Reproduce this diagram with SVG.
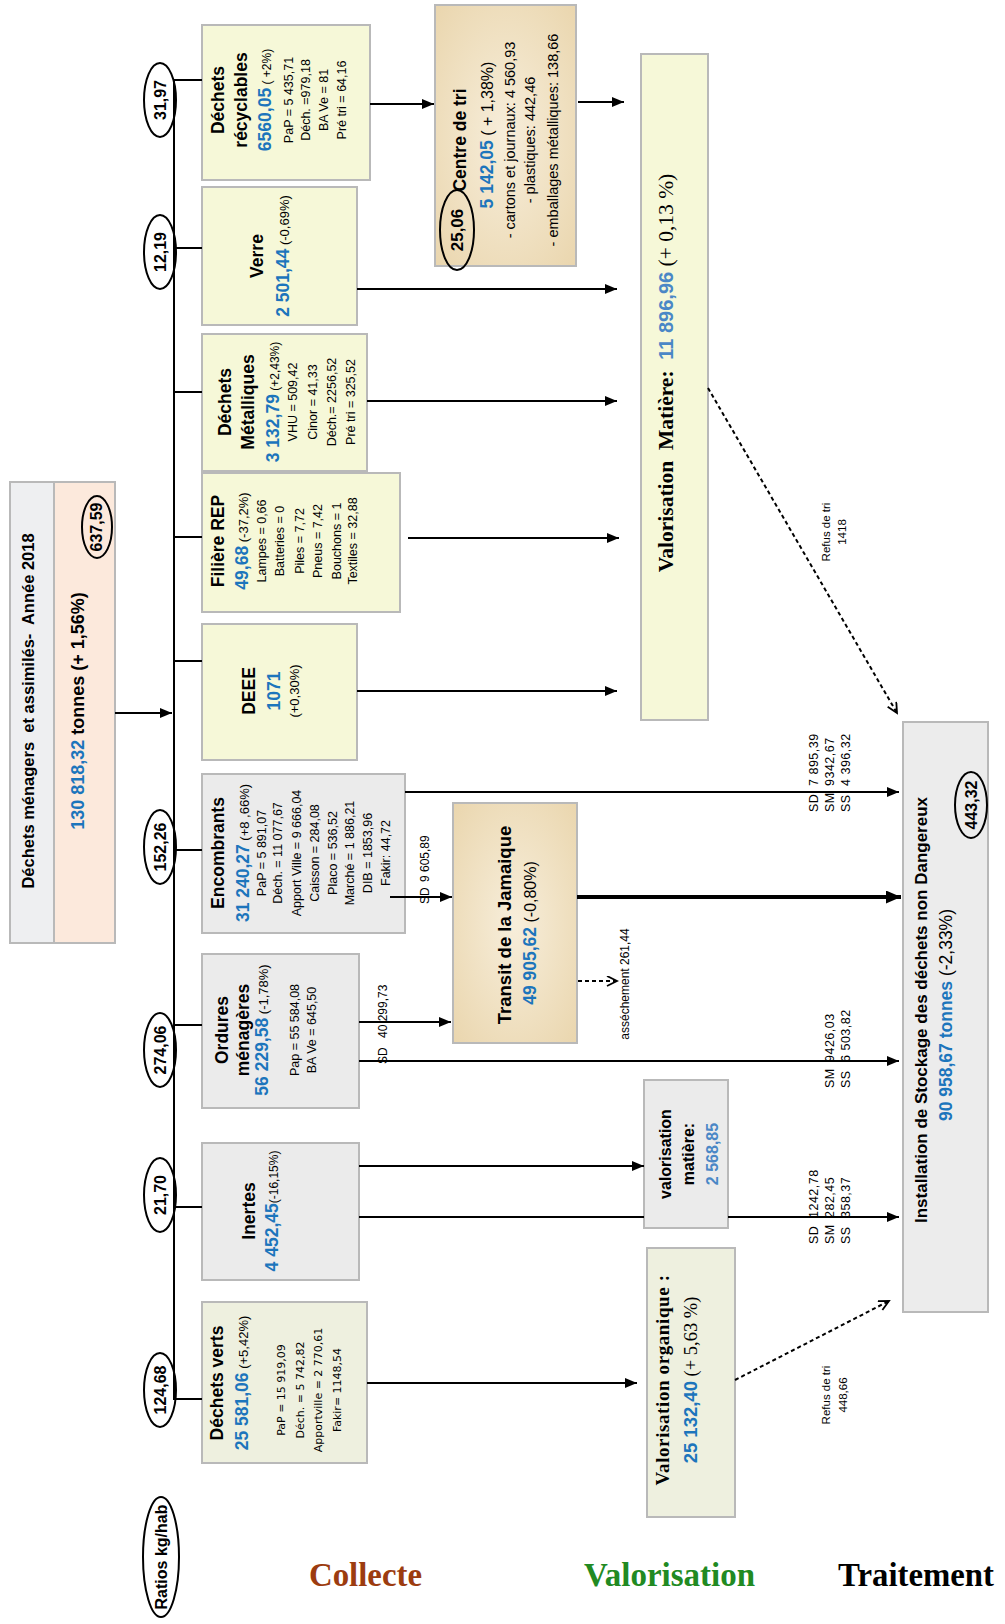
<svg xmlns="http://www.w3.org/2000/svg" width="1005" height="1624" viewBox="0 0 1005 1624">
<style>
text{font-family:"Liberation Sans",Arial,sans-serif}
.m{text-anchor:middle}
.st{text-anchor:start}
.box{stroke:#b9b9b9;stroke-width:2}
.yl{fill:#f6f8d8}
.gr{fill:#ebebeb}
.gv{fill:#eef0df}
.pa{fill:url(#parch)}
.t{font-weight:bold;font-size:17.5px}
.n{font-weight:bold;font-size:17.5px;fill:#1c75bc}
.s{font-weight:normal;fill:#000}
.d{font-size:12.5px}
.dv{font-family:"DejaVu Sans",sans-serif;font-size:11px}
.ov{fill:none;stroke:#000;stroke-width:2}
.ovt{font-weight:bold;font-size:16px}
.ln{stroke:#000;stroke-width:2;fill:none}
.ar{stroke:#000;stroke-width:2;fill:none;marker-end:url(#ah)}
.dash{stroke:#000;stroke-width:2;fill:none;stroke-dasharray:4 3;marker-end:url(#oh)}
.lbl{font-size:12px}
.lb2{font-size:12.5px;letter-spacing:0.5px}
.sm{font-size:11.5px}
.big{font-family:"Liberation Serif","Times New Roman",serif;font-weight:bold;font-size:34px}
</style>
<defs>
<marker id="ah" markerUnits="userSpaceOnUse" markerWidth="13" markerHeight="11" refX="12" refY="5" orient="auto"><path d="M0,0 L12,5 L0,10 z" fill="#000"/></marker>
<marker id="ahb" markerUnits="userSpaceOnUse" markerWidth="16" markerHeight="14" refX="15" refY="6.5" orient="auto"><path d="M0,0 L15,6.5 L0,13 z" fill="#000"/></marker>
<marker id="oh" markerUnits="userSpaceOnUse" markerWidth="13" markerHeight="12" refX="11" refY="5.5" orient="auto"><path d="M1,0.5 L11,5.5 L1,10.5" fill="none" stroke="#000" stroke-width="1.8"/></marker>
<radialGradient id="parch" cx="50%" cy="50%" r="70%"><stop offset="0" stop-color="#f7eedb"/><stop offset="1" stop-color="#ead6ae"/></radialGradient>
</defs>
<rect width="1005" height="1624" fill="#fff"/>

<g id="header">
<rect x="10" y="482" width="44" height="461" fill="#eeeff1" class="box"/>
<rect x="54" y="482" width="61" height="461" fill="#fce9dc" class="box"/>
<g transform="translate(0,711) rotate(-90)" class="m"><text y="34" font-weight="bold" font-size="16.5" xml:space="preserve">Déchets ménagers  et assimilés-  Année 2018</text>
<text y="84" font-weight="bold" font-size="18"><tspan fill="#1c75bc">130 818,32</tspan> tonnes (+ 1,56%)</text></g>
<ellipse cx="97" cy="527" rx="15" ry="31" class="ov"/>
<g transform="translate(0,527) rotate(-90)" class="m"><text y="102" class="ovt">637,59</text></g>
</g>

<g id="ratios">
<ellipse cx="160" cy="100" rx="16" ry="37" class="ov"/>
<ellipse cx="160" cy="252" rx="16" ry="37" class="ov"/>
<ellipse cx="160" cy="847" rx="16" ry="37" class="ov"/>
<ellipse cx="160" cy="1050" rx="16" ry="37" class="ov"/>
<ellipse cx="160" cy="1195" rx="16" ry="37" class="ov"/>
<ellipse cx="160" cy="1390" rx="16" ry="37" class="ov"/>
<ellipse cx="161" cy="1557" rx="18" ry="60" class="ov"/>
<g class="m ovt">
<text transform="translate(166,100) rotate(-90)">31,97</text>
<text transform="translate(166,252) rotate(-90)">12,19</text>
<text transform="translate(166,847) rotate(-90)">152,26</text>
<text transform="translate(166,1050) rotate(-90)">274,06</text>
<text transform="translate(166,1195) rotate(-90)">21,70</text>
<text transform="translate(166,1390) rotate(-90)">124,68</text>
<text transform="translate(167,1557) rotate(-90)" font-size="16">Ratios kg/hab</text>
</g>
</g>

<g id="recyclables">
<rect x="202" y="25" width="168" height="155" class="box yl"/>
<g transform="translate(0,100) rotate(-90)" class="m">
<text y="224" class="t">Déchets</text>
<text y="247" class="t">récyclables</text>
<text y="271" class="n">6560,05<tspan class="s" style="font-size:12px"> ( +2%)</tspan></text>
<text y="293" class="d">PaP = 5 435,71</text>
<text y="310" class="d">Déch. =979,18</text>
<text y="328" class="d">BA Ve = 81</text>
<text y="346" class="d">Pré tri = 64,16</text>
</g></g>

<g id="verre">
<rect x="202" y="187" width="155" height="138" class="box yl"/>
<g transform="translate(0,256) rotate(-90)" class="m">
<text y="263" class="t">Verre</text>
<text y="289" class="n">2 501,44<tspan class="s" style="font-size:13px"> (-0,69%)</tspan></text>
</g></g>

<g id="metalliques">
<rect x="202" y="334" width="165" height="137" class="box yl"/>
<g transform="translate(0,402) rotate(-90)" class="m">
<text y="231" class="t">Déchets</text>
<text y="254" class="t">Métalliques</text>
<text y="279" class="n">3 132,79<tspan class="s" style="font-size:12px"> (+2,43%)</tspan></text>
<text y="297" class="d">VHU = 509,42</text>
<text y="317" class="d">Cinor = 41,33</text>
<text y="336" class="d">Déch.= 2256,52</text>
<text y="355" class="d">Pré tri = 325,52</text>
</g></g>

<g id="rep">
<rect x="202" y="473" width="198" height="139" class="box yl"/>
<g transform="translate(0,541) rotate(-90)" class="m">
<text y="224" class="t">Filière REP</text>
<text y="248" class="n">49,68<tspan class="s" style="font-size:13px"> (-37,2%)</tspan></text>
<text y="266" class="d">Lampes = 0,66</text>
<text y="284" class="d">Batteries = 0</text>
<text y="304" class="d">Piles = 7,72</text>
<text y="322" class="d">Pneus = 7,42</text>
<text y="341" class="d">Bouchons = 1</text>
<text y="357" class="d">Textiles = 32,88</text>
</g></g>

<g id="deee">
<rect x="202" y="624" width="155" height="136" class="box yl"/>
<g transform="translate(0,691) rotate(-90)" class="m">
<text y="255" class="t">DEEE</text>
<text y="280" class="n">1071</text>
<text y="299" style="font-size:13px">(+0,30%)</text>
</g></g>

<g id="encombrants">
<rect x="202" y="774" width="203" height="159" class="box gr"/>
<g transform="translate(0,853) rotate(-90)" class="m">
<text y="224" class="t">Encombrants</text>
<text y="249" class="n">31 240,27<tspan class="s" style="font-size:13px"> (+8 ,66%)</tspan></text>
<text y="266" class="d">PaP = 5 891,07</text>
<text y="282" class="d">Déch. = 11 077,67</text>
<text y="301" class="d">Apport Ville = 9 666,04</text>
<text y="319" class="d">Caisson = 284,08</text>
<text y="337" class="d">Placo = 536,52</text>
<text y="354" class="d">Marché = 1 886,21</text>
<text y="372" class="d">DIB = 1853,96</text>
<text y="390" class="d">Fakir: 44,72</text>
</g></g>

<g id="ordures">
<rect x="202" y="954" width="157" height="154" class="box gr"/>
<g transform="translate(0,1030) rotate(-90)" class="m">
<text y="228" class="t">Ordures</text>
<text y="249" class="t">ménagères</text>
<text y="268" class="n">56 229,58<tspan class="s" style="font-size:13px"> (-1,78%)</tspan></text>
<text y="299" class="d">Pap = 55 584,08</text>
<text y="316" class="d">BA Ve = 645,50</text>
</g></g>

<g id="inertes">
<rect x="202" y="1143" width="157" height="137" class="box gr"/>
<g transform="translate(0,1211) rotate(-90)" class="m">
<text y="255" class="t">Inertes</text>
<text y="278" class="n">4 452,45<tspan class="s" style="font-size:12px">(-16,15%)</tspan></text>
</g></g>

<g id="verts">
<rect x="202" y="1302" width="165" height="161" class="box gv"/>
<g transform="translate(0,1383) rotate(-90)" class="m">
<text y="223" class="t">Déchets verts</text>
<text y="248" class="n">25 581,06<tspan class="s" style="font-size:13px"> (+5,42%)</tspan></text>
</g>
<g transform="translate(0,1390) rotate(-90)" class="m">
<text y="285" class="dv">PaP = 15 919,09</text>
<text y="304" class="dv">Déch. = 5 742,82</text>
<text y="322" class="dv">Apportville = 2 770,61</text>
<text y="341" class="dv">Fakir= 1148,54</text>
</g></g>

<g id="centre-tri">
<rect x="435" y="5" width="141" height="261" class="box pa"/>
<ellipse cx="457" cy="230" rx="17" ry="40" class="ov"/>
<text transform="translate(463,230) rotate(-90)" class="m" font-weight="bold" font-size="17">25,06</text>
<text transform="translate(466,140) rotate(-90)" class="m t">Centre de tri</text>
<text transform="translate(493,135) rotate(-90)" class="m n">5 142,05<tspan class="s" style="font-size:16px"> ( + 1,38%)</tspan></text>
<g transform="translate(0,140) rotate(-90)" class="m">
<text y="515" font-size="14.5">- cartons et journaux: 4 560,93</text>
<text y="535" font-size="14.5">- plastiques: 442,46</text>
<text y="558" font-size="14.5">- emballages métalliques: 138,66</text>
</g></g>

<g id="transit">
<rect x="453" y="803" width="124" height="240" class="box pa"/>
<text transform="translate(511,925) rotate(-90)" class="m" font-weight="bold" font-size="18.5">Transit de la Jamaique</text>
<text transform="translate(536,933) rotate(-90)" class="m n">49 905,62<tspan class="s" style="font-size:16px"> (-0,80%)</tspan></text>
</g>

<g id="valorisation-matiere">
<rect x="641" y="54" width="67" height="666" class="box yl"/>
<text transform="translate(673,373) rotate(-90)" class="m" xml:space="preserve" style="font-family:'Liberation Serif','Times New Roman',serif;font-weight:bold;font-size:21.5px">Valorisation  Matière:  <tspan style="font-family:'Liberation Sans',Arial,sans-serif;font-size:20px;fill:#4a87c6">11 896,96</tspan><tspan font-weight="normal"> (+ 0,13 %)</tspan></text>
</g>

<g id="valorisation-inertes">
<rect x="644" y="1080" width="84" height="148" class="box gr"/>
<g transform="translate(0,1154) rotate(-90)" class="m" font-weight="bold" font-size="16">
<text y="671">valorisation</text>
<text y="694">matière:</text>
<text y="718" fill="#4a87c6">2 568,85</text>
</g></g>

<g id="valorisation-organique">
<rect x="647" y="1248" width="88" height="269" class="box gv"/>
<g transform="translate(0,1380) rotate(-90)" class="m">
<text y="669" style="font-family:'Liberation Serif','Times New Roman',serif;font-weight:bold;font-size:19px;letter-spacing:0.6px">Valorisation organique :</text>
<text y="697" style="font-family:'Liberation Serif','Times New Roman',serif;font-size:18.5px"><tspan style="font-family:'Liberation Sans',Arial,sans-serif;font-weight:bold;fill:#1c75bc">25 132,40</tspan> (+ 5,63 %)</text>
</g></g>

<g id="isdnd">
<rect x="903" y="722" width="85" height="590" fill="#ececec" class="box"/>
<text transform="translate(927,1010) rotate(-90)" class="m" font-weight="bold" font-size="17">Installation de Stockage des déchets non Dangereux</text>
<text transform="translate(952,1015) rotate(-90)" class="m" font-size="17.5"><tspan font-weight="bold" fill="#1c75bc">90 958,67 tonnes</tspan> (-2,33%)</text>
<ellipse cx="971" cy="805" rx="16" ry="33" class="ov"/>
<text transform="translate(977,805) rotate(-90)" class="m ovt">443,32</text>
</g>

<g id="connectors">
<path class="ln" d="M174,79 V1400"/>
<path class="ln" d="M174,80 H202 M174,248 H202 M174,392 H202 M174,537 H202 M174,661 H202 M174,850 H202 M174,1025 H202 M174,1207 H202 M174,1399 H202"/>
<path class="ar" d="M115,713 H172"/>
<path class="ar" d="M370,104 H434"/>
<path class="ar" d="M578,102 H624"/>
<path class="ar" d="M357,289 H617"/>
<path class="ar" d="M367,401 H617"/>
<path class="ar" d="M408,538 H619"/>
<path class="ar" d="M357,691 H617"/>
<path class="ar" d="M405,792 H899"/>
<path class="ar" d="M390,897 H452"/>
<path d="M577,897 H901" stroke="#000" stroke-width="4" fill="none" marker-end="url(#ahb)"/>
<path class="dash" d="M578,981 H617"/>
<path class="ar" d="M359,1022 H451"/>
<path class="ar" d="M359,1061 H899"/>
<path class="ar" d="M359,1166 H644"/>
<path class="ln" d="M359,1217 H644"/>
<path class="ar" d="M728,1217 H899"/>
<path class="ar" d="M367,1383 H637"/>
<path class="dash" d="M708,388 L897,713"/>
<path class="dash" d="M735,1380 L889,1301"/>
<g class="lbl st">
<text transform="translate(429,904) rotate(-90)">SD<tspan x="22">9 605,89</tspan></text>
<text transform="translate(387,1064) rotate(-90)">SD<tspan x="26">40 299,73</tspan></text>
</g>
<g class="lb2 st">
<text transform="translate(818,812) rotate(-90)">SD<tspan x="26">7 895,39</tspan></text>
<text transform="translate(834,812) rotate(-90)">SM<tspan x="26">9342,67</tspan></text>
<text transform="translate(850,812) rotate(-90)">SS<tspan x="26">4 396,32</tspan></text>
<text transform="translate(834,1088) rotate(-90)">SM<tspan x="26">9426,03</tspan></text>
<text transform="translate(850,1088) rotate(-90)">SS<tspan x="26">6 503,82</tspan></text>
<text transform="translate(818,1244) rotate(-90)">SD<tspan x="26">1242,78</tspan></text>
<text transform="translate(834,1244) rotate(-90)">SM<tspan x="26">282,45</tspan></text>
<text transform="translate(850,1244) rotate(-90)">SS<tspan x="26">358,37</tspan></text>
</g>
<g class="m">
<text transform="translate(629,984) rotate(-90)" class="lbl">asséchement 261,44</text>
<text transform="translate(830,532) rotate(-90)" class="sm">Refus de tri</text>
<text transform="translate(846,532) rotate(-90)" class="sm">1418</text>
<text transform="translate(830,1395) rotate(-90)" class="sm">Refus de tri</text>
<text transform="translate(847,1395) rotate(-90)" class="sm">448,66</text>
</g>
</g>

<g id="phases">
<text x="309" y="1586" class="big" fill="#9c3c10" textLength="113" lengthAdjust="spacingAndGlyphs">Collecte</text>
<text x="584" y="1586" class="big" fill="#218a22" textLength="171" lengthAdjust="spacingAndGlyphs">Valorisation</text>
<text x="838" y="1586" class="big" fill="#000" style="font-size:33.5px" textLength="156" lengthAdjust="spacingAndGlyphs">Traitement</text>
</g>
</svg>
